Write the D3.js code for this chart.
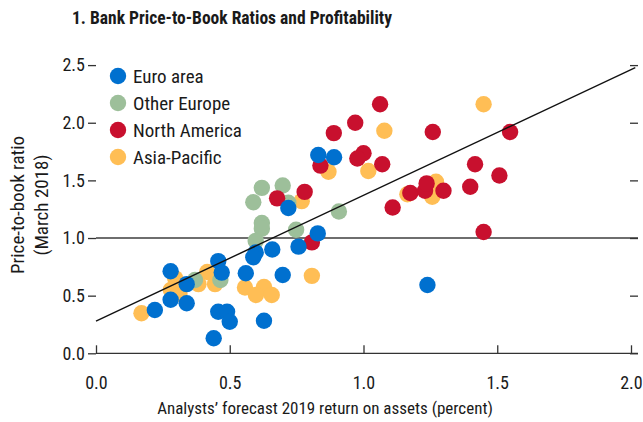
<!DOCTYPE html>
<html>
<head>
<meta charset="utf-8">
<script src="https://cdn.jsdelivr.net/npm/d3@7"></script>
<style>
  html, body { margin: 0; padding: 0; background: #fff; }
  svg { display: block; }
  text { font-family: "Liberation Sans Narrow", "Arial Narrow", "Roboto Condensed", sans-serif; fill: #1a1a1a; }
</style>
</head>
<body>
<svg id="chart" width="643" height="422"></svg>
<script>
// Bank price-to-book ratios (March 2018) vs analysts' forecast 2019 ROA
const seriesNames = ["Euro area", "Other Europe", "North America", "Asia-Pacific"];
const seriesColors = ["#0070cf", "#9dbf9a", "#c8102e", "#ffbe55"];

const euroArea = [
  [0.831, 1.72], [0.89, 1.70], [0.719, 1.26], [0.829, 1.04], [0.757, 0.925],
  [0.659, 0.90], [0.597, 0.875], [0.588, 0.833], [0.56, 0.694], [0.698, 0.679],
  [0.457, 0.80], [0.47, 0.70], [0.279, 0.712], [0.339, 0.60], [0.279, 0.465],
  [0.339, 0.434], [0.22, 0.376], [0.457, 0.361], [0.49, 0.361], [0.50, 0.274],
  [0.44, 0.13], [0.628, 0.283], [1.239, 0.592]
];
const otherEurope = [
  [0.62, 1.435], [0.698, 1.455], [0.588, 1.31], [0.719, 1.306], [0.62, 1.13],
  [0.62, 1.08], [0.748, 1.072], [0.597, 0.975], [0.908, 1.23], [0.37, 0.636],
  [0.465, 0.636]
];
const northAmerica = [
  [1.062, 2.16], [0.969, 2.0], [0.889, 1.91], [0.839, 1.628], [1.0, 1.735],
  [0.977, 1.69], [1.07, 1.64], [0.78, 1.40], [0.677, 1.344], [0.807, 0.962],
  [1.109, 1.265], [1.175, 1.39], [1.23, 1.41], [1.236, 1.474], [1.299, 1.41],
  [1.399, 1.445], [1.417, 1.64], [1.508, 1.542], [1.548, 1.92], [1.259, 1.92],
  [1.449, 1.052]
];
const asiaPacific = [
  [1.449, 2.16], [1.078, 1.93], [0.869, 1.575], [1.018, 1.582], [0.769, 1.32],
  [1.164, 1.38], [1.271, 1.488], [1.257, 1.358], [0.807, 0.672], [0.557, 0.571],
  [0.628, 0.575], [0.598, 0.506], [0.657, 0.506], [0.416, 0.705], [0.445, 0.60],
  [0.383, 0.60], [0.296, 0.65], [0.28, 0.55], [0.312, 0.515], [0.17, 0.347]
];

const xTicks = [0, 0.5, 1.0, 1.5, 2.0];
const yTicks = [0, 0.5, 1.0, 1.5, 2.0, 2.5];

// fitted line: intercept and slope, drawn over the x span
const fitIntercept = 0.28;
const fitSlope = 1.09;
const fitSpan = [0, 2.016];

const svg = d3.select("#chart");
const plotLeft = 96, plotRight = 631, plotTop = 65.1, plotBottom = 353.3;

const x = d3.scaleLinear().domain([0, 2]).range([plotLeft, plotRight]);
const y = d3.scaleLinear().domain([0, 2.5]).range([plotBottom, plotTop]);

// title
svg.append("text")
  .attr("x", 72).attr("y", 24)
  .attr("font-size", 17.5).attr("font-weight", "bold")
  .text("1. Bank Price-to-Book Ratios and Profitability");

// reference line at 1.0
svg.append("line")
  .attr("x1", x(0)).attr("x2", 638)
  .attr("y1", y(1)).attr("y2", y(1))
  .attr("stroke", "#6e6e6e").attr("stroke-width", 2);

// x axis
const xAxis = d3.axisBottom(x).tickValues(xTicks).tickFormat(d3.format(".1f"))
  .tickSizeInner(-8).tickSizeOuter(0).tickPadding(23);
const gx = svg.append("g").attr("transform", `translate(0,${plotBottom})`).call(xAxis);
gx.select(".domain").attr("d", `M${plotLeft},0H638`).attr("stroke", "#333").attr("stroke-width", 1.3);
gx.selectAll(".tick line").attr("stroke", "#333").attr("stroke-width", 1.3);
gx.selectAll(".tick text").attr("font-size", 18).attr("font-family", null).attr("fill", "#1a1a1a");

// y ticks on left and right
const yAxisL = d3.axisLeft(y).tickValues(yTicks).tickFormat(d3.format(".1f"))
  .tickSize(8).tickPadding(3);
const gyl = svg.append("g").attr("transform", `translate(${plotLeft},0)`).call(yAxisL);
gyl.select(".domain").remove();
gyl.selectAll(".tick line").attr("stroke", "#333").attr("stroke-width", 1.3);
gyl.selectAll(".tick text").attr("font-size", 18).attr("font-family", null).attr("fill", "#1a1a1a");

const yAxisR = d3.axisRight(y).tickValues(yTicks).tickFormat("").tickSize(8);
const gyr = svg.append("g").attr("transform", `translate(630,0)`).call(yAxisR);
gyr.select(".domain").remove();
gyr.selectAll(".tick line").attr("stroke", "#333").attr("stroke-width", 1.3);

// axis titles
svg.append("text")
  .attr("x", 325).attr("y", 414)
  .attr("text-anchor", "middle").attr("font-size", 17)
  .text("Analysts\u2019 forecast 2019 return on assets (percent)");

const yTitle = svg.append("text")
  .attr("transform", "translate(0,205) rotate(-90)")
  .attr("text-anchor", "middle").attr("font-size", 19);
yTitle.append("tspan").attr("x", 0).attr("y", 24).text("Price-to-book ratio");
yTitle.append("tspan").attr("x", 0).attr("y", 48).text("(March 2018)");

// points: Asia-Pacific underneath, Euro area on top
const layers = [
  [asiaPacific, seriesColors[3]],
  [otherEurope, seriesColors[1]],
  [northAmerica, seriesColors[2]],
  [euroArea, seriesColors[0]]
];
layers.forEach(([data, color]) => {
  svg.append("g").selectAll("circle").data(data).join("circle")
    .attr("cx", d => x(d[0])).attr("cy", d => y(d[1]))
    .attr("r", 8.2).attr("fill", color);
});

// fitted line
svg.append("line")
  .attr("x1", x(fitSpan[0])).attr("y1", y(fitIntercept + fitSlope * fitSpan[0]))
  .attr("x2", x(fitSpan[1])).attr("y2", y(fitIntercept + fitSlope * fitSpan[1]))
  .attr("stroke", "#111").attr("stroke-width", 1.4);

// legend
const legend = svg.append("g");
seriesNames.forEach((name, i) => {
  const cy = 76 + i * 27;
  legend.append("circle").attr("cx", 118).attr("cy", cy).attr("r", 8.2).attr("fill", seriesColors[i]);
  legend.append("text").attr("x", 133).attr("y", cy + 7).attr("font-size", 19).text(name);
});
</script>
</body>
</html>
